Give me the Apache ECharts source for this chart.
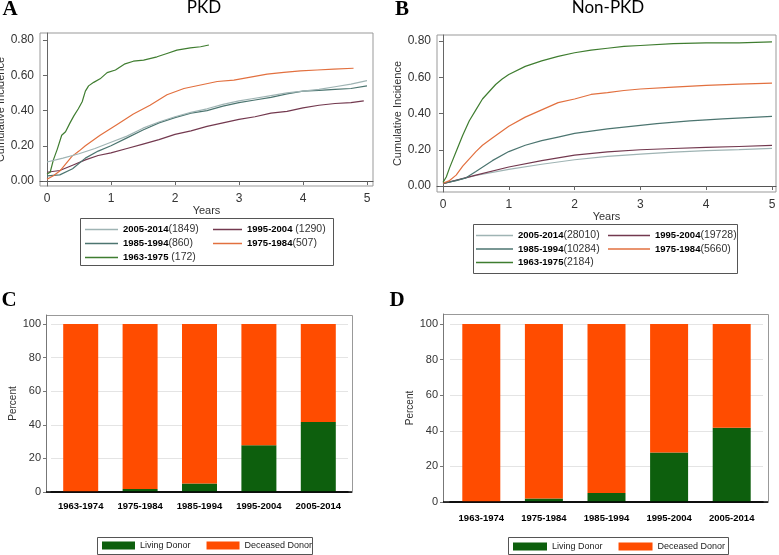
<!DOCTYPE html>
<html><head><meta charset="utf-8">
<script src="https://cdn.jsdelivr.net/npm/echarts@6/dist/echarts.min.js"></script>
<style>html,body{margin:0;padding:0;background:#fff}#c{width:779px;height:555px}</style>
</head><body><div id="c"></div><script>
// ---- Data ----
const periods = ['2005-2014','1995-2004','1985-1994','1975-1984','1963-1975'];
const pkdLabels = ['(1849)',' (1290)','(860)','(507)',' (172)'];
const nonPkdLabels = ['(28010)','(19728)','(10284)','(5660)','(2184)'];

// PKD cumulative incidence (years, value)
const pkdT_2005 = [0,0.25,0.5,0.75,1.0,1.25,1.5,1.75,2.0,2.25,2.5,2.75,3.0,3.25,3.5,3.75,4.0,4.25,4.5,4.75,5.0];
const pkdY_2005 = [0.108,0.13,0.155,0.185,0.22,0.255,0.30,0.335,0.365,0.39,0.41,0.435,0.455,0.47,0.485,0.50,0.51,0.52,0.535,0.55,0.57];
const pkdT_1995 = [0,0.2,0.4,0.6,0.8,1.0,1.25,1.5,1.75,2.0,2.25,2.5,2.75,3.0,3.25,3.5,3.75,4.0,4.25,4.5,4.75,4.95];
const pkdY_1995 = [0.05,0.06,0.09,0.12,0.145,0.16,0.185,0.21,0.235,0.265,0.285,0.31,0.33,0.35,0.365,0.385,0.395,0.415,0.43,0.44,0.445,0.455];
const pkdT_1985 = [0,0.2,0.4,0.6,0.8,1.0,1.25,1.5,1.75,2.0,2.25,2.5,2.75,3.0,3.25,3.5,3.75,4.0,4.25,4.5,4.75,5.0];
const pkdY_1985 = [0.03,0.035,0.07,0.13,0.17,0.20,0.245,0.29,0.33,0.36,0.385,0.40,0.425,0.445,0.46,0.475,0.495,0.51,0.515,0.52,0.525,0.54];
const pkdT_1975 = [0,0.1,0.21,0.3,0.39,0.5,0.6,0.83,1.09,1.35,1.61,1.875,2.14,2.4,2.66,2.92,3.18,3.44,3.7,3.96,4.22,4.48,4.79];
const pkdY_1975 = [0.01,0.03,0.06,0.10,0.14,0.17,0.20,0.26,0.32,0.38,0.43,0.49,0.525,0.545,0.565,0.573,0.59,0.607,0.617,0.625,0.63,0.635,0.64];
const pkdT_1963 = [0,0.05,0.10,0.16,0.23,0.29,0.36,0.42,0.49,0.55,0.60,0.65,0.73,0.83,0.94,1.07,1.22,1.35,1.51,1.72,1.875,2.03,2.24,2.40,2.53];
const pkdY_1963 = [0.04,0.05,0.12,0.18,0.26,0.28,0.33,0.37,0.41,0.45,0.51,0.54,0.56,0.58,0.615,0.63,0.665,0.68,0.686,0.705,0.724,0.743,0.756,0.762,0.772];

// Non-PKD cumulative incidence
const nonT_2005 = [0,0.5,1.0,1.5,2.0,2.5,3.0,3.5,4.0,4.5,5.0];
const nonY_2005 = [0.013,0.058,0.092,0.12,0.145,0.163,0.176,0.187,0.195,0.201,0.208];
const nonT_1995 = [0,0.5,1.0,1.5,2.0,2.5,3.0,3.5,4.0,4.5,5.0];
const nonY_1995 = [0.013,0.06,0.105,0.14,0.17,0.188,0.20,0.207,0.213,0.218,0.224];
const nonT_1985 = [0,0.2,0.35,0.5,0.75,1.0,1.25,1.5,1.75,2.0,2.25,2.5,2.75,3.25,3.75,4.25,5.0];
const nonY_1985 = [0.015,0.03,0.045,0.08,0.14,0.19,0.225,0.25,0.27,0.29,0.303,0.315,0.325,0.344,0.359,0.37,0.384];
const nonT_1975 = [0,0.1,0.2,0.3,0.4,0.5,0.6,0.75,1.0,1.25,1.5,1.75,2.0,2.25,2.5,2.75,3.0,3.5,4.0,4.5,5.0];
const nonY_1975 = [0.015,0.03,0.06,0.11,0.15,0.19,0.225,0.265,0.33,0.38,0.42,0.46,0.48,0.505,0.515,0.527,0.535,0.545,0.555,0.562,0.568];
const nonT_1963 = [0,0.05,0.1,0.2,0.3,0.4,0.5,0.6,0.7,0.8,0.9,1.0,1.25,1.5,1.75,2.0,2.25,2.5,2.75,3.0,3.5,4.0,4.5,5.0];
const nonY_1963 = [0.02,0.05,0.10,0.19,0.28,0.36,0.42,0.48,0.52,0.56,0.59,0.615,0.66,0.69,0.715,0.735,0.75,0.76,0.77,0.775,0.785,0.79,0.79,0.795];

// Donor type percentages
const eras = ['1963-1974','1975-1984','1985-1994','1995-2004','2005-2014'];
const pkdLiving = [0,1.8,5,27.8,41.7];
const pkdDeceased = [100,98.2,95,72.2,58.3];
const nonLiving = [0,1.9,5.1,27.8,41.7];
const nonDeceased = [100,98.1,94.9,72.2,58.3];

const xTicks = [0,1,2,3,4,5];
const yTicksCI = [0,0.2,0.4,0.6,0.8];
const yTicksPct = [0,20,40,60,80,100];

// ---- Styling ----
const lineColors = ['#9fb4b4','#73394f','#4c7570','#e2703f','#3f7d30'];
const livingColor = '#0d5f0d', deceasedColor = '#ff4c00';
const SANS = "'Liberation Sans',Arial,sans-serif";

const zip = (t, y) => t.map((v, i) => [v, y[i]]);
const pkdData = [zip(pkdT_2005,pkdY_2005), zip(pkdT_1995,pkdY_1995), zip(pkdT_1985,pkdY_1985), zip(pkdT_1975,pkdY_1975), zip(pkdT_1963,pkdY_1963)];
const nonData = [zip(nonT_2005,nonY_2005), zip(nonT_1995,nonY_1995), zip(nonT_1985,nonY_1985), zip(nonT_1975,nonY_1975), zip(nonT_1963,nonY_1963)];

const series = [];
periods.forEach((p, i) => {
  series.push({name:'A|'+p, type:'line', xAxisIndex:0, yAxisIndex:0, data:pkdData[i], showSymbol:false, symbol:'none',
    color:lineColors[i], lineStyle:{width:1.2, color:lineColors[i]}, z: i===0?3:2});
  series.push({name:'B|'+p, type:'line', xAxisIndex:1, yAxisIndex:1, data:nonData[i], showSymbol:false, symbol:'none',
    color:lineColors[i], lineStyle:{width:1.2, color:lineColors[i]}});
});
series.push({name:'C|Living Donor', type:'bar', stack:'c', xAxisIndex:2, yAxisIndex:2, data:pkdLiving, barWidth:35, color:livingColor});
series.push({name:'C|Deceased Donor', type:'bar', stack:'c', xAxisIndex:2, yAxisIndex:2, data:pkdDeceased, barWidth:35, color:deceasedColor});
series.push({name:'D|Living Donor', type:'bar', stack:'d', xAxisIndex:3, yAxisIndex:3, data:nonLiving, barWidth:38, color:livingColor});
series.push({name:'D|Deceased Donor', type:'bar', stack:'d', xAxisIndex:3, yAxisIndex:3, data:nonDeceased, barWidth:38, color:deceasedColor});

function lineLegendFormatter(name){
  const [panel, per] = name.split('|');
  const i = periods.indexOf(per);
  const cnt = panel === 'A' ? pkdLabels[i] : nonPkdLabels[i];
  return '{b|' + per + '}{n|' + cnt + '}';
}
function lineLegend(panel, names, left, top, w, gap){
  return {orient:'vertical', left:left, top:top, padding:0, itemGap:gap, itemWidth:w, itemHeight:1.5, icon:'rect',
    data:names.map(n => panel+'|'+n), formatter:lineLegendFormatter, selectedMode:false,
    textStyle:{rich:{
      b:{fontFamily:SANS, fontWeight:'bold', fontSize:9.5, color:'#000'},
      n:{fontFamily:SANS, fontSize:10.5, color:'#333'}}}};
}
function barLegend(panel, left, top, w){
  return {orient:'horizontal', left:left, top:top, padding:0, itemGap:16, itemWidth:w, itemHeight:8, icon:'rect',
    data:[panel+'|Living Donor', panel+'|Deceased Donor'], selectedMode:false,
    formatter: n => n.split('|')[1], textStyle:{fontFamily:SANS, fontSize:9, color:'#222'}};
}

function ciX(grid, min, max, gap){
  return {type:'value', gridIndex:grid, min:min, max:max, name:'Years', nameLocation:'middle', nameGap:gap,
    nameTextStyle:{fontFamily:SANS, fontSize:11, color:'#333'},
    axisLine:{show:true, lineStyle:{color:'#555', width:1}},
    axisTick:{show:true, length:4, customValues:xTicks, lineStyle:{color:'#666'}},
    axisLabel:{customValues:xTicks, margin:7, fontFamily:SANS, fontSize:12, color:'#333'},
    splitLine:{show:false}};
}
function ciY(grid, min, max, gap){
  return {type:'value', gridIndex:grid, min:min, max:max, name:'Cumulative Incidence', nameLocation:'middle', nameGap:gap,
    nameTextStyle:{fontFamily:SANS, fontSize:11, color:'#333'},
    axisLine:{show:true, lineStyle:{color:'#666', width:1}},
    axisTick:{show:true, length:4, customValues:yTicksCI, lineStyle:{color:'#666'}},
    axisLabel:{customValues:yTicksCI, margin:6, fontFamily:SANS, fontSize:12, color:'#333', formatter:v => v.toFixed(2)},
    splitLine:{show:false}};
}
function pctX(grid, margin){
  return {type:'category', gridIndex:grid, data:eras,
    axisLine:{show:true, lineStyle:{color:'#000', width:1.5}},
    axisTick:{show:false},
    axisLabel:{interval:0, margin:margin, fontFamily:SANS, fontWeight:'bold', fontSize:9.5, color:'#000'}};
}
function pctY(grid, max, offset){
  return {type:'value', gridIndex:grid, min:0, max:max, offset:offset, name:'Percent', nameLocation:'middle', nameGap:25,
    nameTextStyle:{fontFamily:SANS, fontSize:10, color:'#333'},
    axisLine:{show:true, lineStyle:{color:'#777'}},
    axisTick:{show:true, length:3, customValues:yTicksPct, lineStyle:{color:'#777'}},
    axisLabel:{customValues:yTicksPct, margin:5, fontFamily:SANS, fontSize:11, color:'#333'},
    splitLine:{show:true, lineStyle:{color:'#e4e4e4', width:1}}};
}

const chart = echarts.init(document.getElementById('c'), null, {renderer:'canvas'});
chart.setOption({
  backgroundColor:'#fff',
  animation:false,
  grid:[
    {left:40, top:33, width:333, height:153, show:true, borderColor:'#999', borderWidth:1, backgroundColor:'transparent', outerBoundsMode:'none', containLabel:false},
    {left:437, top:35, width:339, height:157, show:true, borderColor:'#999', borderWidth:1, backgroundColor:'transparent', outerBoundsMode:'none', containLabel:false},
    {left:51, top:315, width:297, height:177, outerBoundsMode:'none', containLabel:false},
    {left:450, top:314, width:313, height:188, outerBoundsMode:'none', containLabel:false}
  ],
  xAxis:[ciX(0,-0.109,5.094,17), ciX(1,-0.091,5.061,16), pctX(2,9), pctX(3,11)],
  yAxis:[ciY(0,-0.028,0.84,27.5), ciY(1,-0.033,0.833,30), pctY(2,105.36,5), pctY(3,105.6,7)],
  legend:[
    lineLegend('A',['2005-2014','1985-1994','1963-1975'],85,224,33,3),
    lineLegend('A',['1995-2004','1975-1984'],213,224,29,3),
    lineLegend('B',['2005-2014','1985-1994','1963-1975'],476,230,37,2.5),
    lineLegend('B',['1995-2004','1975-1984'],608,230,42,2.5),
    barLegend('C',102,541,33),
    barLegend('D',513,542,34)
  ],
  series:series,
  graphic:[
    {type:'rect', shape:{x:80.5,y:218.5,width:253,height:47}, style:{fill:'none', stroke:'#555', lineWidth:1}},
    {type:'rect', shape:{x:473.5,y:224.5,width:264,height:49}, style:{fill:'none', stroke:'#555', lineWidth:1}},
    {type:'rect', shape:{x:97.5,y:537.5,width:215,height:17}, style:{fill:'none', stroke:'#555', lineWidth:1}},
    {type:'rect', shape:{x:508.5,y:537.5,width:220,height:17}, style:{fill:'none', stroke:'#555', lineWidth:1}},
    {type:'rect', shape:{x:46.5,y:315.5,width:306,height:177}, style:{fill:'none', stroke:'#999', lineWidth:1}},
    {type:'rect', shape:{x:443.5,y:314.5,width:325,height:188}, style:{fill:'none', stroke:'#999', lineWidth:1}},
    {type:'line', z:100, shape:{x1:46,y1:492,x2:352,y2:492}, style:{stroke:'#000', lineWidth:1.5}},
    {type:'line', z:100, shape:{x1:443,y1:502,x2:768,y2:502}, style:{stroke:'#000', lineWidth:1.5}},
    {type:'text', x:10, y:10, style:{text:'A', font:'bold 21px "Liberation Serif"', fill:'#000', align:'center', verticalAlign:'middle'}},
    {type:'text', x:402, y:10, style:{text:'B', font:'bold 21px "Liberation Serif"', fill:'#000', align:'center', verticalAlign:'middle'}},
    {type:'text', x:9, y:301, style:{text:'C', font:'bold 21px "Liberation Serif"', fill:'#000', align:'center', verticalAlign:'middle'}},
    {type:'text', x:397, y:301, style:{text:'D', font:'bold 21px "Liberation Serif"', fill:'#000', align:'center', verticalAlign:'middle'}},
    {type:'text', x:204, y:8, style:{text:'PKD', font:'17px Lato', fill:'#000', align:'center', verticalAlign:'middle'}},
    {type:'text', x:608, y:8, style:{text:'Non-PKD', font:'17px Lato', fill:'#000', align:'center', verticalAlign:'middle'}}
  ]
});
</script></body></html>
